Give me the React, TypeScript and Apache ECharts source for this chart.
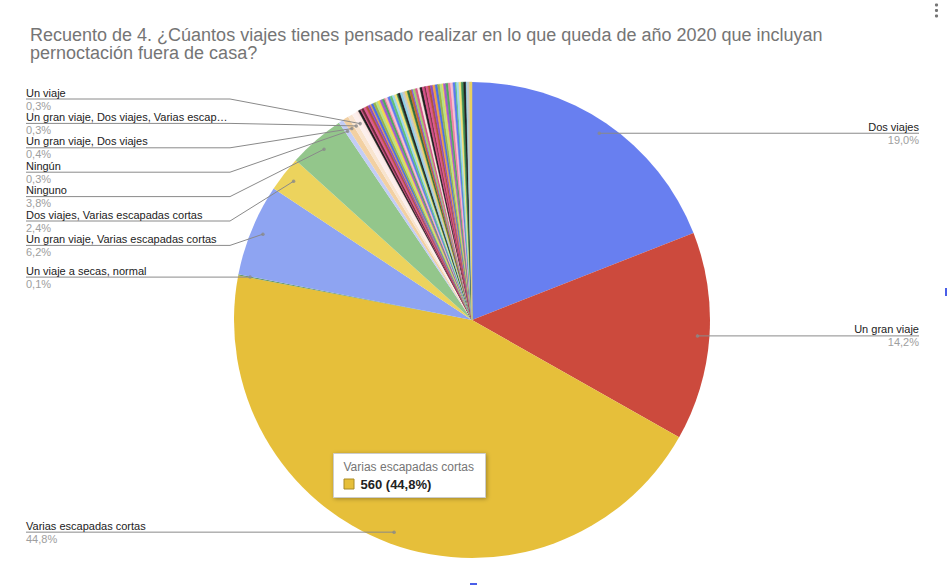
import React, { useEffect, useRef } from "react";
import * as echarts from "echarts";

const TITLE =
  "Recuento de 4. ¿Cúantos viajes tienes pensado realizar en lo que queda de año 2020 que incluyan\npernoctación fuera de casa?";

// Named answers (in the order Google draws them, clockwise from 12 o'clock)
const categories = [
  "Dos viajes",
  "Un gran viaje",
  "Varias escapadas cortas",
  "Un viaje a secas, normal",
  "Un gran viaje, Varias escapadas cortas",
  "Dos viajes, Varias escapadas cortas",
  "Ninguno",
  "Ningún",
  "Un gran viaje, Dos viajes",
  "Un gran viaje, Dos viajes, Varias escapadas cortas",
  "Un viaje",
];
const counts = [238, 177, 560, 1, 78, 30, 48, 4, 5, 4, 4];
const mainColors = [
  "#687ff0",
  "#cc4a3d",
  "#e6bf3a",
  "#6a9a6a",
  "#8ea4f2",
  "#ecd35d",
  "#93c68b",
  "#c3cdf6",
  "#f2d0a2",
  "#f8e4cf",
  "#fcefec",
];

// Many tiny free-text answers without labels
const otherCounts = [
  2, 2, 1, 2, 2, 2, 2, 1, 2, 2,
  2, 2, 2, 2, 1, 2, 2, 2, 2, 2,
  1, 2, 2, 2, 2, 2, 2, 1, 2, 2,
  2, 2, 2, 1, 2, 2, 2, 2, 2, 2,
  2, 1, 2, 2, 2, 2, 2, 1, 2, 2,
  2, 2, 1, 2, 2,
];
const otherPalette = [
  "#fbe6e2", "#1e1e1e", "#d64f86", "#6b2a3a", "#e0578f", "#b5523a", "#8c4fc0",
  "#f0a040", "#4a6ee8", "#9bb34a", "#b7e08a", "#f2d84a", "#a55ad0", "#4fa860",
  "#ef7fa8", "#f6c2d2", "#5a7bf0", "#62c07a", "#9fd8f0", "#f4e27a", "#3f8f55",
  "#222222", "#8fd0e8", "#c8c8c8", "#e9d060", "#2f6f3f", "#c06a30", "#7f4df0",
  "#a0d070", "#d45a8a",
];

const TOOLTIP_INDEX = 2;

// layout
const CX = 472;
const CY = 320;
const R = 238;
const LABEL_R = 226;
const LEFT_X = 26;
const RIGHT_X = 919;
const ELBOW = 204;
const GAP = 24.4;
const LABEL_TOP = CY - R + 17;
const LABEL_W = 204;
const FONT = "'Liberation Sans', Arial, sans-serif";

export default function App() {
  const ref = useRef<HTMLDivElement>(null);

  useEffect(() => {
    const el = ref.current!;
    const chart = echarts.init(el, undefined, { renderer: "svg" });

    const allValues = counts.concat(otherCounts);
    const total = allValues.reduce((a, b) => a + b, 0);
    const fmtPct = (v: number) =>
      (Math.round((v / total) * 1000) / 10).toFixed(1).replace(".", ",") + "%";

    const mids: number[] = [];
    let cum = 0;
    allValues.forEach((v) => {
      mids.push(cum + v / 2);
      cum += v;
    });

    type Info = { i: number; ax: number; ay: number; left: boolean; ly: number };
    const infos: Info[] = counts.map((_, i) => {
      const th = (mids[i] / total) * Math.PI * 2;
      return {
        i,
        ax: CX + LABEL_R * Math.sin(th),
        ay: CY - LABEL_R * Math.cos(th),
        left: Math.sin(th) < 0,
        ly: 0,
      };
    });
    const stack = (items: Info[]) => {
      items.sort((a, b) => a.ay - b.ay);
      const ys = items.map((it) => it.ay);
      for (let k = ys.length - 2; k >= 0; k--) ys[k] = Math.min(ys[k], ys[k + 1] - GAP);
      for (let k = 0; k < ys.length; k++)
        ys[k] = Math.max(ys[k], k === 0 ? LABEL_TOP : ys[k - 1] + GAP);
      items.forEach((it, k) => (it.ly = ys[k]));
    };
    stack(infos.filter((d) => d.left));
    stack(infos.filter((d) => !d.left));
    const byIndex: Record<number, Info> = {};
    infos.forEach((d) => (byIndex[d.i] = d));

    const names = categories.concat(otherCounts.map((_, i) => `Otra respuesta ${i + 1}`));
    const colors = mainColors.concat(
      otherCounts.map((_, i) => otherPalette[i % otherPalette.length])
    );

    const pieData = allValues.map((v, i) => ({
      name: names[i],
      value: v,
      itemStyle: {
        color: colors[i],
        borderColor: colors[i],
        borderWidth: i < counts.length ? 0 : 0.5,
      },
    }));
    const labelData = allValues.map((v, i) => ({
      name: names[i],
      value: v,
      label: { show: i < counts.length },
      labelLine: { show: i < counts.length },
    }));

    const dotData = counts.map((_, i) => [LABEL_R, mids[i]]);

    const tipName = categories[TOOLTIP_INDEX];
    const tipValue = `${counts[TOOLTIP_INDEX]} (${fmtPct(counts[TOOLTIP_INDEX])})`;

    const option: any = {
      animation: false,
      backgroundColor: "#ffffff",
      title: {
        text: TITLE,
        left: LEFT_X - 1,
        top: 21,
        textStyle: {
          fontFamily: FONT,
          fontSize: 18,
          fontWeight: "normal",
          color: "#757575",
          lineHeight: 18,
        },
      },
      polar: { center: [CX, CY], radius: R },
      angleAxis: {
        type: "value",
        min: 0,
        max: total,
        startAngle: 90,
        clockwise: true,
        show: false,
        splitLine: { show: false },
      },
      radiusAxis: { type: "value", min: 0, max: R, show: false, splitLine: { show: false } },
      series: [
        {
          type: "pie",
          center: [CX, CY],
          radius: R,
          startAngle: 90,
          clockwise: true,
          silent: true,
          z: 2,
          label: { show: false },
          labelLine: { show: false },
          emphasis: { disabled: true },
          data: pieData,
        },
        {
          type: "pie",
          center: [CX, CY],
          radius: LABEL_R,
          startAngle: 90,
          clockwise: true,
          silent: true,
          z: 3,
          avoidLabelOverlap: false,
          itemStyle: { color: "rgba(0,0,0,0)" },
          emphasis: { disabled: true },
          label: {
            show: true,
            position: "outside",
            width: LABEL_W,
            overflow: "truncate",
            ellipsis: "…",
            fontFamily: FONT,
            formatter: (p: any) => `{n|${p.name}}\n{p|${fmtPct(p.value)}}`,
            rich: {
              n: { fontFamily: FONT, fontSize: 11, color: "#222222", lineHeight: 13 },
              p: { fontFamily: FONT, fontSize: 11, color: "#9e9e9e", lineHeight: 13 },
            },
          },
          labelLine: {
            show: true,
            length: 5,
            length2: 5,
            lineStyle: { color: "#8a8a8a", width: 1 },
          },
          labelLayout: (params: any) => {
            const info = byIndex[params.dataIndex];
            if (!info) return {};
            const p0 = [info.ax, info.ay];
            if (info.left) {
              return {
                x: LEFT_X,
                y: info.ly,
                align: "left",
                verticalAlign: "middle",
                width: LABEL_W,
                labelLinePoints: [p0, [LEFT_X + ELBOW, info.ly], [LEFT_X, info.ly]],
              };
            }
            return {
              x: RIGHT_X,
              y: info.ly,
              align: "right",
              verticalAlign: "middle",
              width: LABEL_W,
              labelLinePoints: [p0, [RIGHT_X - ELBOW, info.ly], [RIGHT_X, info.ly]],
            };
          },
          data: labelData,
        },
        {
          type: "scatter",
          coordinateSystem: "polar",
          silent: true,
          z: 4,
          symbol: "circle",
          symbolSize: 3.5,
          itemStyle: { color: "#8a8a8a" },
          data: dotData,
        },
      ],
      graphic: [
        {
          type: "group",
          left: 333,
          top: 453,
          z: 100,
          children: [
            {
              type: "rect",
              z: 100,
              shape: { x: 0, y: 0, width: 152, height: 44 },
              style: {
                fill: "#ffffff",
                stroke: "#cccccc",
                lineWidth: 1,
                shadowBlur: 4,
                shadowColor: "rgba(0,0,0,0.3)",
                shadowOffsetX: 1,
                shadowOffsetY: 1,
              },
            },
            {
              type: "text",
              z: 101,
              style: {
                text: tipName,
                x: 10,
                y: 7,
                fill: "#757575",
                fontFamily: FONT,
                fontSize: 12,
              },
            },
            {
              type: "rect",
              z: 101,
              shape: { x: 10.5, y: 25.5, width: 10, height: 10 },
              style: { fill: mainColors[TOOLTIP_INDEX], stroke: "#a88a26", lineWidth: 1 },
            },
            {
              type: "text",
              z: 101,
              style: {
                text: tipValue,
                x: 27,
                y: 24,
                fill: "#222222",
                fontFamily: FONT,
                fontSize: 13,
                fontWeight: "bold",
              },
            },
          ],
        },
        { type: "circle", shape: { cx: 936.5, cy: 5, r: 1.6 }, style: { fill: "#757575" } },
        { type: "circle", shape: { cx: 936.5, cy: 10.5, r: 1.6 }, style: { fill: "#757575" } },
        { type: "circle", shape: { cx: 936.5, cy: 16, r: 1.6 }, style: { fill: "#757575" } },
        { type: "rect", shape: { x: 945, y: 288, width: 2, height: 8 }, style: { fill: "#4a5ee8" } },
        { type: "rect", shape: { x: 470, y: 583, width: 7, height: 2 }, style: { fill: "#4a5ee8" } },
      ],
    };

    chart.setOption(option);
    return () => chart.dispose();
  }, []);

  return (
    <div
      ref={ref}
      style={{ position: "fixed", left: 0, top: 0, width: 947, height: 585, background: "#fff" }}
    />
  );
}
